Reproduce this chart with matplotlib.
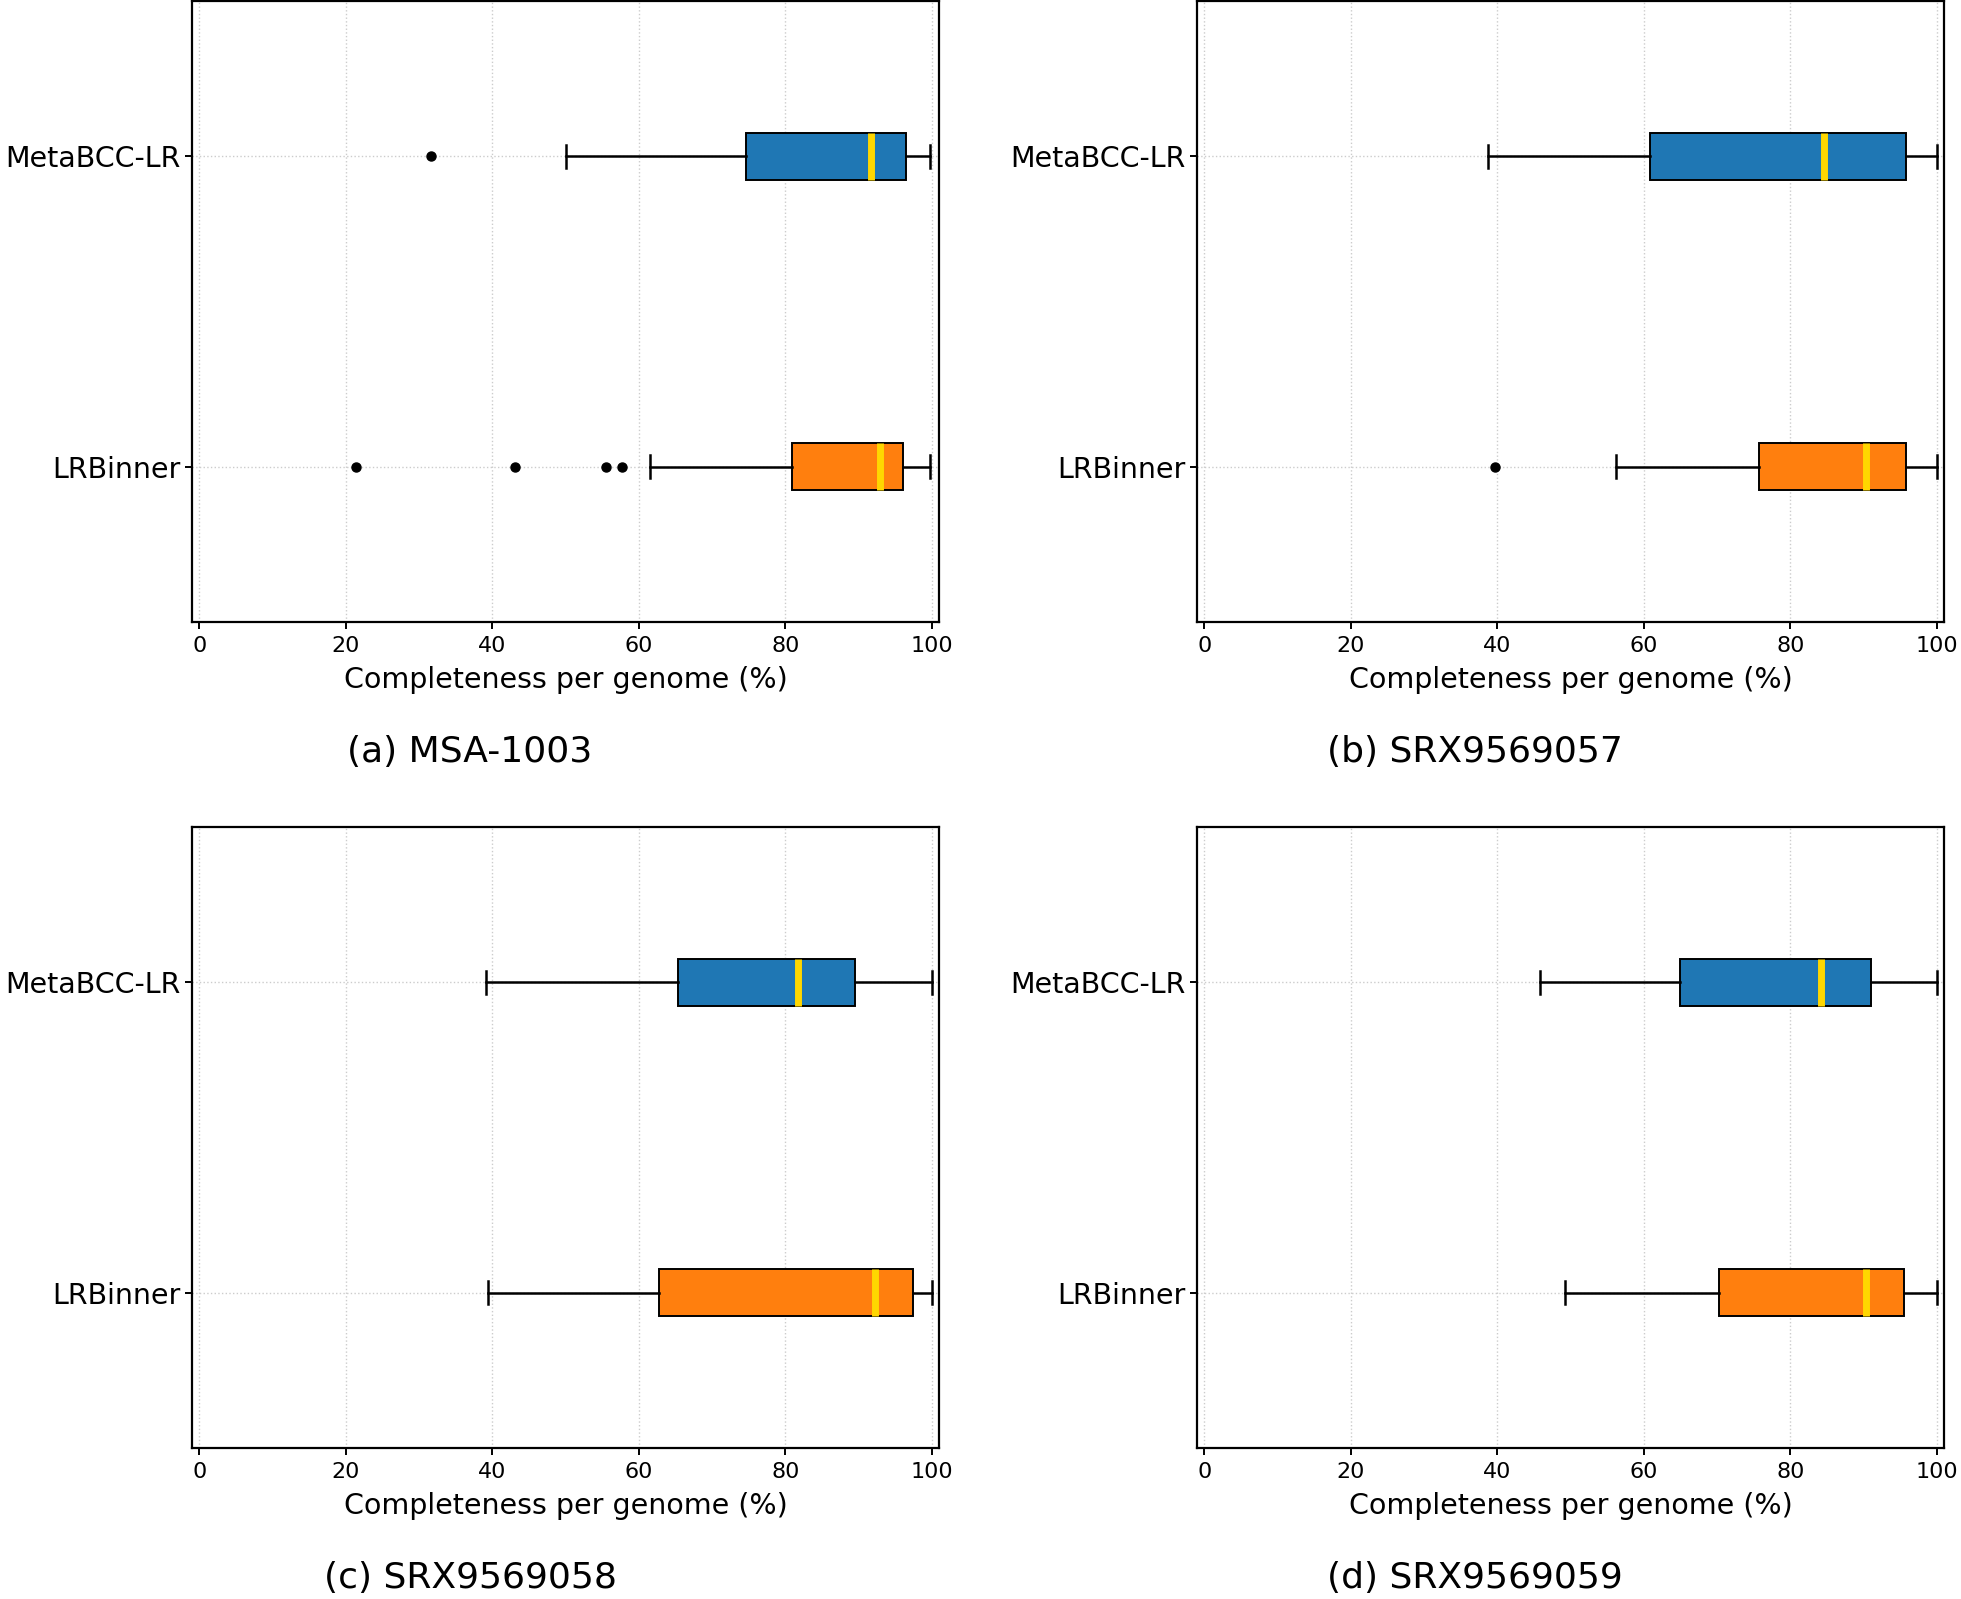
import matplotlib
matplotlib.use("Agg")
import matplotlib.pyplot as plt

# summary stats: whisker low, q1, median, q3, whisker high
methods = ["LRBinner", "MetaBCC-LR"]
colors = ["#ff7f0e", "#1f77b4"]
captions = ["(a) MSA-1003", "(b) SRX9569057", "(c) SRX9569058", "(d) SRX9569059"]

msa_meta = [50.0, 74.6, 91.7, 96.5, 99.8]
msa_meta_fliers = [31.7]
msa_lrb = [61.5, 80.9, 93.0, 96.1, 99.8]
msa_lrb_fliers = [21.4, 43.1, 55.5, 57.7]

s57_meta = [38.8, 60.9, 84.6, 95.8, 100.0]
s57_meta_fliers = []
s57_lrb = [56.2, 75.7, 90.4, 95.8, 100.0]
s57_lrb_fliers = [39.7]

s58_meta = [39.1, 65.3, 81.7, 89.5, 100.0]
s58_meta_fliers = []
s58_lrb = [39.4, 62.8, 92.3, 97.5, 100.0]
s58_lrb_fliers = []

s59_meta = [45.9, 64.9, 84.2, 91.1, 100.0]
s59_meta_fliers = []
s59_lrb = [49.2, 70.3, 90.4, 95.6, 100.0]
s59_lrb_fliers = []

panels = [
    (msa_lrb, msa_lrb_fliers, msa_meta, msa_meta_fliers),
    (s57_lrb, s57_lrb_fliers, s57_meta, s57_meta_fliers),
    (s58_lrb, s58_lrb_fliers, s58_meta, s58_meta_fliers),
    (s59_lrb, s59_lrb_fliers, s59_meta, s59_meta_fliers),
]


def make_stats(vals, fliers, label):
    return dict(whislo=vals[0], q1=vals[1], med=vals[2], q3=vals[3],
                whishi=vals[4], fliers=fliers, label=label)


W, H = 1961, 1599
fig = plt.figure(figsize=(W / 100, H / 100), dpi=100)

# axes boxes in pixels: left, right, top, bottom
boxes = [(192, 939, 1, 622), (1197, 1944, 1, 622),
         (192, 939, 827, 1448), (1197, 1944, 827, 1448)]
cap_x = [470, 1475, 470, 1475]
cap_y = [752, 752, 1578, 1578]

for i, (lrb, lrb_f, meta, meta_f) in enumerate(panels):
    l, r, t, b = boxes[i]
    ax = fig.add_axes([l / W, 1 - b / H, (r - l) / W, (b - t) / H])
    stats = [make_stats(lrb, lrb_f, methods[0]), make_stats(meta, meta_f, methods[1])]
    bp = ax.bxp(stats, positions=[1, 2], vert=False, widths=0.15, patch_artist=True,
                medianprops=dict(color="gold", linewidth=5),
                whiskerprops=dict(linewidth=1.8),
                capprops=dict(linewidth=1.8),
                boxprops=dict(linewidth=1.4),
                flierprops=dict(marker="o", markerfacecolor="black",
                                markeredgecolor="black", markersize=6.5))
    for patch, c in zip(bp["boxes"], colors):
        patch.set_facecolor(c)
    ax.set_xlim(-1, 101)
    ax.set_ylim(0.5, 2.5)
    ax.set_xticks([0, 20, 40, 60, 80, 100])
    ax.tick_params(axis="x", labelsize=16, width=1.4, length=5, pad=5)
    ax.tick_params(axis="y", labelsize=20.5, width=1.4, length=5)
    ax.grid(True, linestyle=":", color="#cccccc", linewidth=1.0)
    ax.set_axisbelow(True)
    for s in ax.spines.values():
        s.set_linewidth(1.6)
    ax.set_xlabel("Completeness per genome (%)", fontsize=20.5, labelpad=7)
    fig.text(cap_x[i] / W, 1 - cap_y[i] / H, captions[i], fontsize=26,
             ha="center", va="center")

fig.savefig("out.png", dpi=100)
